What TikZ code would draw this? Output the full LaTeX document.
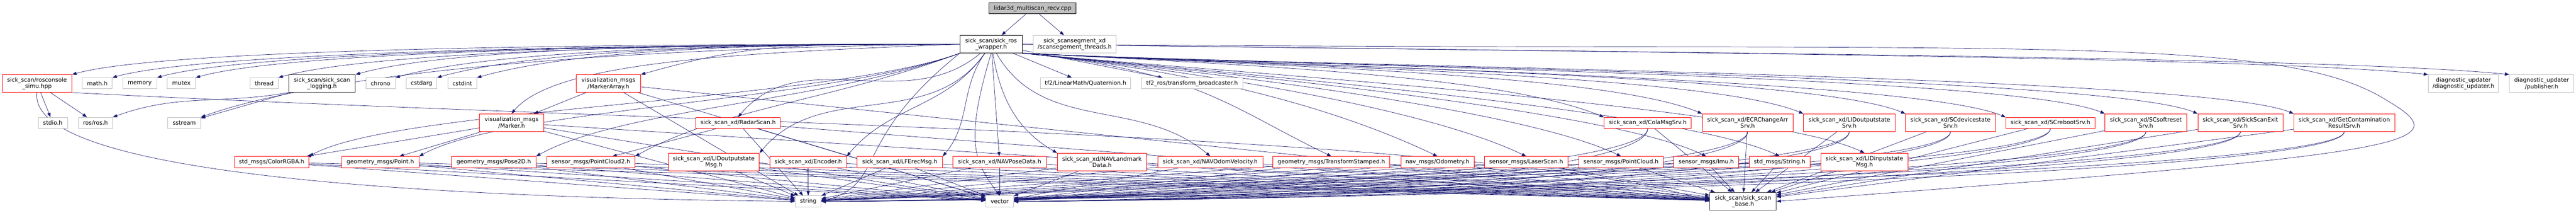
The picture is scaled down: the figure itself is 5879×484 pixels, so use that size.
\documentclass[tikz,border=0pt]{standalone}
\usepackage{fontspec}
\setmainfont{DejaVu Sans}
\usetikzlibrary{arrows.meta}

\definecolor{edgeblue}{RGB}{25,25,112}
\definecolor{leafgray}{RGB}{191,191,191}
\definecolor{docgray}{RGB}{64,64,64}
\pgfdeclarelayer{background}
\pgfsetlayers{background,main}

\tikzset{
  hdr/.style={draw, rectangle, fill=white, inner sep=0pt, align=center, line width=0.8pt,
    font=\fontsize{9.8}{11.25}\selectfont, minimum height=18.75pt},
  two/.style={minimum height=30pt},
  wd/.style={minimum width=#1*0.75pt},
  leaf/.style={hdr, draw=leafgray},
  trunc/.style={hdr, draw=red},
  doc/.style={hdr, draw=docgray},
  topfile/.style={hdr, draw=black},
  dep/.style={draw=edgeblue, line width=0.6pt, -{Triangle[length=7.5pt,width=5.5pt]}},
}

\begin{document}
\begin{tikzpicture}[x=0.75pt,y=-0.75pt]
\useasboundingbox (0,0) rectangle (5879,484);

% top two rows
\node[topfile, wd=199, fill=leafgray] (cpp) at (2356.5,19) {lidar3d\_multiscan\_recv.cpp};
\node[topfile, two, wd=142] (wrapper) at (2262,100.5) {sick\_scan/sick\_ros\\\_wrapper.h};
\node[leaf, two, wd=189] (segthreads) at (2452.5,100.5) {sick\_scansegment\_xd\\/scansegement\_threads.h};

% row 2
\node[trunc, two, wd=159] (rosconsole) at (84.5,190) {sick\_scan/rosconsole\\\_simu.hpp};
\node[leaf, wd=68] (math) at (222,189.5) {math.h};
\node[leaf, wd=78] (memory) at (319,189.5) {memory};
\node[leaf, wd=64] (mutex) at (414,189.5) {mutex};
\node[leaf, wd=64] (thread) at (603,189.5) {thread};
\node[doc, two, wd=152] (logging) at (735,190) {sick\_scan/sick\_scan\\\_logging.h};
\node[leaf, wd=67] (chrono) at (868.5,189.5) {chrono};
\node[leaf, wd=70] (cstdarg) at (962,189.5) {cstdarg};
\node[leaf, wd=66] (cstdint) at (1055,189.5) {cstdint};
\node[trunc, two, wd=147] (markerarray) at (1388.5,190) {visualization\_msgs\\/MarkerArray.h};
\node[leaf, wd=205] (quaternion) at (2477.5,189.5) {tf2/LinearMath/Quaternion.h};
\node[leaf, wd=231] (tfbroad) at (2720.5,189.5) {tf2\_ros/transform\_broadcaster.h};
\node[leaf, two, wd=160] (diagupd) at (5622,190) {diagnostic\_updater\\/diagnostic\_updater.h};
\node[leaf, two, wd=147] (diagpub) at (5800.5,190) {diagnostic\_updater\\/publisher.h};

% row 3
\node[leaf, wd=67] (stdio) at (120.5,279.5) {stdio.h};
\node[leaf, wd=78] (rosh) at (218,279.5) {ros/ros.h};
\node[leaf, wd=75] (sstream) at (420.5,279.5) {sstream};
\node[trunc, two, wd=147] (marker) at (1167.5,279) {visualization\_msgs\\/Marker.h};
\node[trunc, wd=193] (radar) at (1684.5,279.5) {sick\_scan\_xd/RadarScan.h};
\node[trunc, wd=199] (colamsg) at (3760.5,279.5) {sick\_scan\_xd/ColaMsgSrv.h};
\node[trunc, two, wd=207] (ecr) at (3988.5,279) {sick\_scan\_xd/ECRChangeArr\\Srv.h};
\node[trunc, two, wd=209] (lidoutsrv) at (4220.5,279) {sick\_scan\_xd/LIDoutputstate\\Srv.h};
\node[trunc, two, wd=205] (scdev) at (4451.5,279) {sick\_scan\_xd/SCdevicestate\\Srv.h};
\node[trunc, wd=203] (screboot) at (4679.5,279.5) {sick\_scan\_xd/SCrebootSrv.h};
\node[trunc, two, wd=187] (scsoft) at (4897.5,279) {sick\_scan\_xd/SCsoftreset\\Srv.h};
\node[trunc, two, wd=194] (scexit) at (5113,279) {sick\_scan\_xd/SickScanExit\\Srv.h};
\node[trunc, two, wd=230] (getcont) at (5350,279) {sick\_scan\_xd/GetContamination\\ResultSrv.h};

% row 4
\node[trunc, wd=170] (colorrgba) at (620,368.5) {std\_msgs/ColorRGBA.h};
\node[trunc, wd=176] (point) at (868,368.5) {geometry\_msgs/Point.h};
\node[trunc, wd=192] (pose2d) at (1127,368.5) {geometry\_msgs/Pose2D.h};
\node[trunc, wd=201] (pc2) at (1348.5,368.5) {sensor\_msgs/PointCloud2.h};
\node[trunc, two, wd=208] (lidoutmsg) at (1629,368.5) {sick\_scan\_xd/LIDoutputstate\\Msg.h};
\node[trunc, wd=175] (encoder) at (1844.5,368.5) {sick\_scan\_xd/Encoder.h};
\node[trunc, wd=195] (lferec) at (2053.5,368.5) {sick\_scan\_xd/LFErecMsg.h};
\node[trunc, wd=213] (navpose) at (2281.5,368.5) {sick\_scan\_xd/NAVPoseData.h};
\node[trunc, two, wd=204] (navland) at (2515,368.5) {sick\_scan\_xd/NAVLandmark\\Data.h};
\node[trunc, wd=240] (navodom) at (2762,368.5) {sick\_scan\_xd/NAVOdomVelocity.h};
\node[trunc, wd=267] (tfstamped) at (3038.5,368.5) {geometry\_msgs/TransformStamped.h};
\node[trunc, wd=167] (odom) at (3280.5,368.5) {nav\_msgs/Odometry.h};
\node[trunc, wd=190] (laser) at (3483,368.5) {sensor\_msgs/LaserScan.h};
\node[trunc, wd=193] (pcloud) at (3699.5,368.5) {sensor\_msgs/PointCloud.h};
\node[trunc, wd=148] (imu) at (3894,368.5) {sensor\_msgs/Imu.h};
\node[trunc, wd=139] (stdstring) at (4061.5,368.5) {std\_msgs/String.h};
\node[trunc, two, wd=198] (lidinmsg) at (4255,368.5) {sick\_scan\_xd/LIDinputstate\\Msg.h};

% bottom row
\node[leaf, wd=59] (string) at (1844.5,458) {string};
\node[leaf, wd=63] (vector) at (2281.5,458) {vector};
\node[doc, two, wd=152] (base) at (3978,458) {sick\_scan/sick\_scan\\\_base.h};

\begin{pgfonlayer}{background}
\draw[dep] (cpp) -- (wrapper);
\draw[dep] (cpp) -- (segthreads);

% wrapper to the left
\foreach \tgt in {rosconsole,math,memory,mutex,thread,logging,chrono,cstdarg,cstdint,markerarray}
  \draw[dep] (wrapper.west) .. controls +(-400,0) and +(250,-70) .. (\tgt.north east);
\draw[dep] (wrapper.west) .. controls +(-900,10) and +(250,-90) .. (sstream.north east);
\draw[dep] (wrapper.west) .. controls +(-500,20) and +(100,-120) .. (marker.north);
\draw[dep] (wrapper) to[out=-140,in=50] (radar.north);
\foreach \tgt in {colorrgba,point,pose2d,pc2}
  \draw[dep] (wrapper.south west) .. controls +(-300,110) and +(200,-110) .. (\tgt.north east);
\foreach \tgt in {lidoutmsg,encoder,lferec}
  \draw[dep] (wrapper) to[out=-125,in=50] (\tgt.north east);

% wrapper downwards and to the right
\draw[dep] (wrapper) -- (navpose);
\draw[dep] (wrapper) to[out=-80,in=150] (navland.north west);
\draw[dep] (wrapper) to[out=-60,in=140] (navodom.north);
\draw[dep] (wrapper) -- (quaternion);
\draw[dep] (wrapper) -- (tfbroad);
\foreach \tgt in {tfstamped,odom,laser,pcloud,imu,stdstring,lidinmsg}
  \draw[dep] (wrapper.south east) .. controls +(400,40) and +(-230,-110) .. (\tgt.north);
\foreach \tgt in {colamsg,ecr,lidoutsrv,scdev,screboot,scsoft,scexit,getcont}
  \draw[dep] (wrapper.south east) .. controls +(600,30) and +(-220,-90) .. (\tgt.north west);
\foreach \tgt in {diagupd,diagpub}
  \draw[dep] (wrapper.east) .. controls +(1500,20) and +(-400,-40) .. (\tgt.north west);
\draw[dep] (wrapper.south west) .. controls +(-250,200) and +(150,-40) .. (string.east);
\draw[dep] (wrapper.south) .. controls +(-60,200) and +(-60,-80) .. (vector.north);
\draw[dep] (wrapper.east) .. controls (4600,120) and (5200,70) .. (5450,230)
  .. controls (5620,330) and (5500,350) .. (base.east);

% second level
\draw[dep] (rosconsole) -- (stdio);
\draw[dep] (rosconsole) -- (rosh);
\draw[dep] (rosconsole.south) .. controls (60,400) and (1000,450) .. (string.west);
\draw[dep] (rosconsole.south east) .. controls (1500,280) and (3400,300) .. (base.west);
\draw[dep] (logging) -- (sstream);
\draw[dep] (logging.south west) to[out=190,in=20] (rosh.north east);
\draw[dep] (markerarray) -- (marker);
\draw[dep] (marker) -- (colorrgba);
\draw[dep] (marker) -- (point);
\draw[dep] (radar) -- (pc2);

% message headers to the bottom row
\foreach \src in {markerarray,marker,radar,colorrgba,point,pose2d,pc2,lidoutmsg,encoder,lferec,
    navpose,navland,navodom,tfstamped,odom,laser,pcloud,imu,stdstring,lidinmsg}{
  \draw[dep] (\src) -- (string);
  \draw[dep] (\src) -- (vector);
  \draw[dep] (\src) -- (base);
}
% services loop down under the messages
\foreach \src in {colamsg,ecr,lidoutsrv,scdev,screboot,scsoft,scexit,getcont}{
  \draw[dep] (\src.south) .. controls +(0,110) and +(400,0) .. (string.east);
  \draw[dep] (\src.south) .. controls +(0,110) and +(400,0) .. (vector.east);
  \draw[dep] (\src) -- (base);
}
\end{pgfonlayer}
\end{tikzpicture}
\end{document}
